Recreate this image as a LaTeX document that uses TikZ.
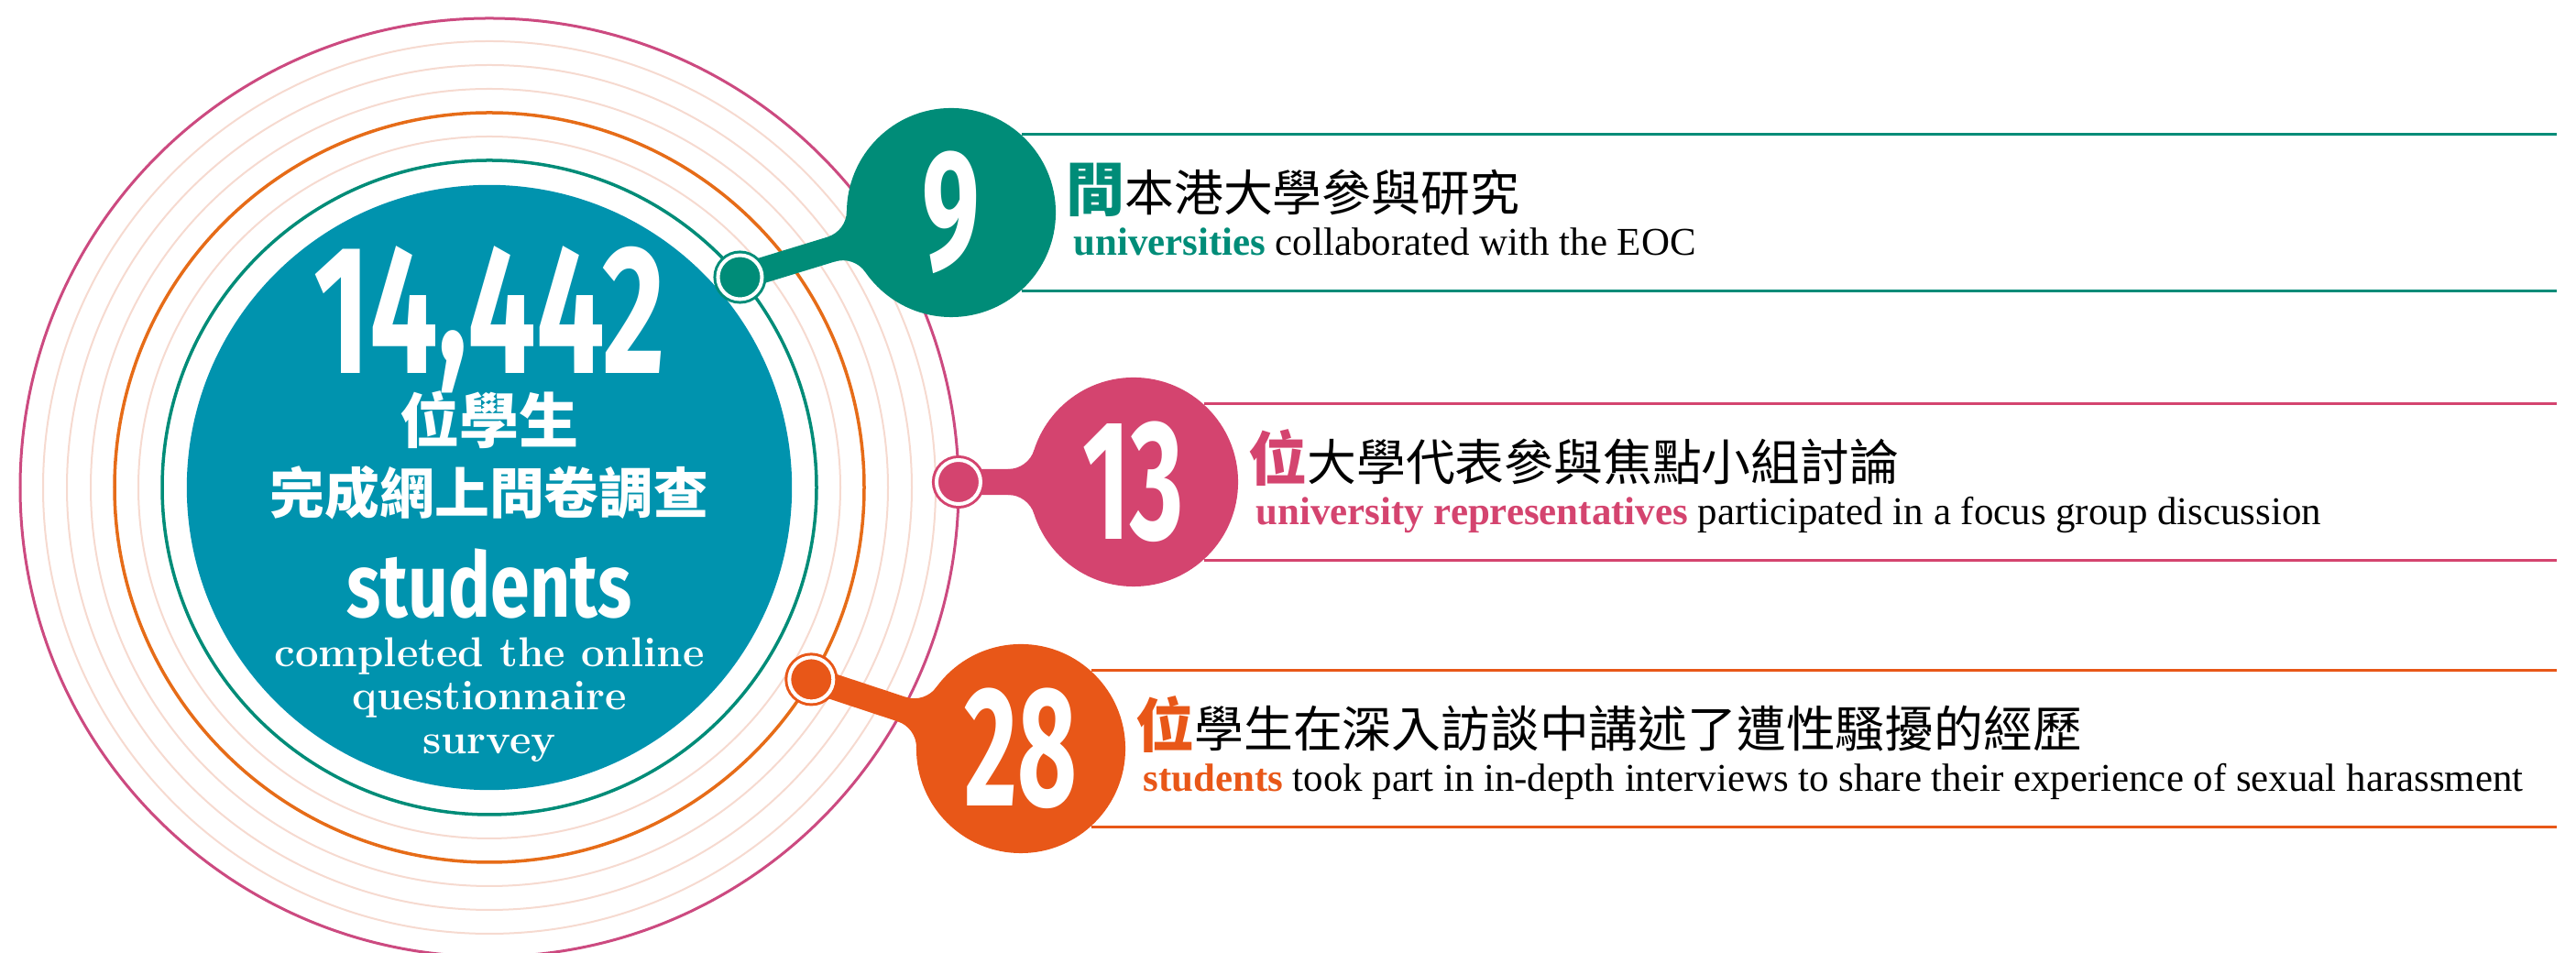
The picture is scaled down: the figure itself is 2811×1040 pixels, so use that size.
\documentclass[tikz,border=0pt]{standalone}
\usepackage{fontspec}
\usepackage{tikz}
\usetikzlibrary{positioning,calc}
\newfontfamily\cjk{Noto Sans CJK TC}
\newfontfamily\numfont{Fira Sans}[FakeStretch=0.6]
\newfontfamily\totalfont{Fira Sans}[FakeStretch=0.66]
\newfontfamily\wordfont{Fira Sans}[FakeStretch=0.78]
\newfontfamily\tms{Liberation Serif}

\definecolor{coreteal}{RGB}{0,147,174}
\definecolor{uniteal}{RGB}{0,140,120}
\definecolor{reppink}{RGB}{212,68,111}
\definecolor{stuorange}{RGB}{232,87,24}
\definecolor{ringorange}{RGB}{230,108,24}
\definecolor{ringpink}{RGB}{204,74,128}
\definecolor{ringpeach}{RGB}{246,218,208}

\tikzset{
  ring/.style={line width=0.02cm},
  bubble/.style={circle, fill=#1, text=white, minimum size=2.28cm, inner sep=0pt, font=\numfont\bfseries\fontsize{53}{53}\selectfont},
  knob/.style={circle, fill=#1, draw=#1, line width=0.03cm, double=white, double distance=0.04cm, minimum size=0.48cm, inner sep=0pt, outer sep=0pt},
  neck/.style={line width=0.28cm, draw=#1},
  rule/.style={line width=0.03cm, draw=#1},
  zhrow/.style={anchor=base west, inner sep=0pt, font=\cjk\fontsize{15.3}{16}\selectfont},
  enrow/.style={anchor=base west, inner sep=0pt, font=\tms\fontsize{12.2}{13}\selectfont},
  coretext/.style={anchor=base, inner sep=0pt, text=white},
}
% the two fillets where a neck meets its bubble
\newcommand\fillets[3]{%
  \fill[#3, shift={(#1)}, rotate=#2]
    (-137.1,14) arc[start angle=270, end angle=342.2, radius=30] -- (0,0) -- cycle
    (-137.1,-14) arc[start angle=90, end angle=17.8, radius=30] -- (0,0) -- cycle;}

\begin{document}
\begin{tikzpicture}[x=0.01cm, y=0.01cm]
\useasboundingbox (0,0) rectangle (2811,1040);

% centre disc and rings
\node[circle, fill=coreteal, minimum size=6.6cm, inner sep=0pt] (core) at (534,508) {};
\foreach \r in {383,435,461,487}
  \draw[ring, ringpeach] (core.center) circle[radius=\r];
\draw[ring, uniteal, line width=0.035cm] (core.center) circle[radius=357];
\draw[ring, ringorange, line width=0.035cm] (core.center) circle[radius=409];
\draw[ring, ringpink, line width=0.03cm] (core.center) circle[radius=512];

\node[coretext, font=\totalfont\bfseries\fontsize{57}{57}\selectfont] (total) at ([yshift=1.24cm]core.center) {14\raisebox{4pt}{,}442};
\node[coretext, font=\cjk\bfseries\fontsize{18.5}{20}\selectfont] (totzh) at ([yshift=0.48cm]core.center) {位學生};
\node[coretext, font=\cjk\bfseries\fontsize{17}{18}\selectfont] (donezh) at ([yshift=-0.28cm]core.center) {完成網上問卷調查};
\node[coretext, font=\wordfont\bfseries\fontsize{28}{28}\selectfont] (stud) at ([yshift=-1.41cm]core.center) {students};
\foreach \t [count=\i] in {completed the online, questionnaire, survey}
  \node[coretext, font=\bfseries\fontsize{12.95}{13.4}\selectfont] (done\i) at ([yshift={-1.95cm-(\i-1)*0.475cm}]core.center) {\t};

% knobs on the rings and bubble centres
\coordinate (k9) at ($(core.center)+(40:357)$);
\coordinate (k13) at ($(core.center)+(0.67:512)$);
\coordinate (k28) at ($(core.center)+(-30.8:409)$);
\coordinate (c9) at (1038,808);
\coordinate (c13) at (1237,514);
\coordinate (c28) at (1114,223);
\coordinate (edge) at (2790,0);

\draw[neck=uniteal] (k9) -- (c9);
\draw[neck=reppink] (k13) -- (c13);
\draw[neck=stuorange] (k28) -- (c28);
\fillets{c9}{17}{uniteal}
\fillets{c13}{0}{reppink}
\fillets{c28}{-18.3}{stuorange}

\node[bubble=uniteal] (n9) at (c9) {9};
\node[bubble=reppink] (n13) at (c13) {13};
\node[bubble=stuorange] (n28) at (c28) {28};
\node[knob=uniteal] (d9) at (k9) {};
\node[knob=reppink] (d13) at (k13) {};
\node[knob=stuorange] (d28) at (k28) {};

% rules
\draw[rule=uniteal] (n9.48) -- (n9.48 -| edge);
\draw[rule=uniteal] (n9.-48) -- (n9.-48 -| edge);
\draw[rule=reppink] (n13.48) -- (n13.48 -| edge);
\draw[rule=reppink] (n13.-48) -- (n13.-48 -| edge);
\draw[rule=stuorange] (n28.48) -- (n28.48 -| edge);
\draw[rule=stuorange] (n28.-48) -- (n28.-48 -| edge);

% texts
\node[zhrow] (z9) at ([shift={(10,1)}]n9.east) {{\bfseries\color{uniteal}\fontsize{18.2}{19}\selectfont 間}本港大學參與研究};
\node[enrow] (e9) at ([shift={(18,-47)}]n9.east) {\textcolor{uniteal}{\bfseries universities} collaborated with the EOC};
\node[zhrow] (z13) at ([shift={(10,1)}]n13.east) {{\bfseries\color{reppink}\fontsize{18.2}{19}\selectfont 位}大學代表參與焦點小組討論};
\node[enrow] (e13) at ([shift={(18,-47)}]n13.east) {\textcolor{reppink}{\bfseries university representatives} participated in a focus group discussion};
\node[zhrow] (z28) at ([shift={(10,1)}]n28.east) {{\bfseries\color{stuorange}\fontsize{18.2}{19}\selectfont 位}學生在深入訪談中講述了遭性騷擾的經歷};
\node[enrow] (e28) at ([shift={(18,-47)}]n28.east) {\textcolor{stuorange}{\bfseries students} took part in in-depth interviews to share their experience of sexual harassment};
\end{tikzpicture}
\end{document}
